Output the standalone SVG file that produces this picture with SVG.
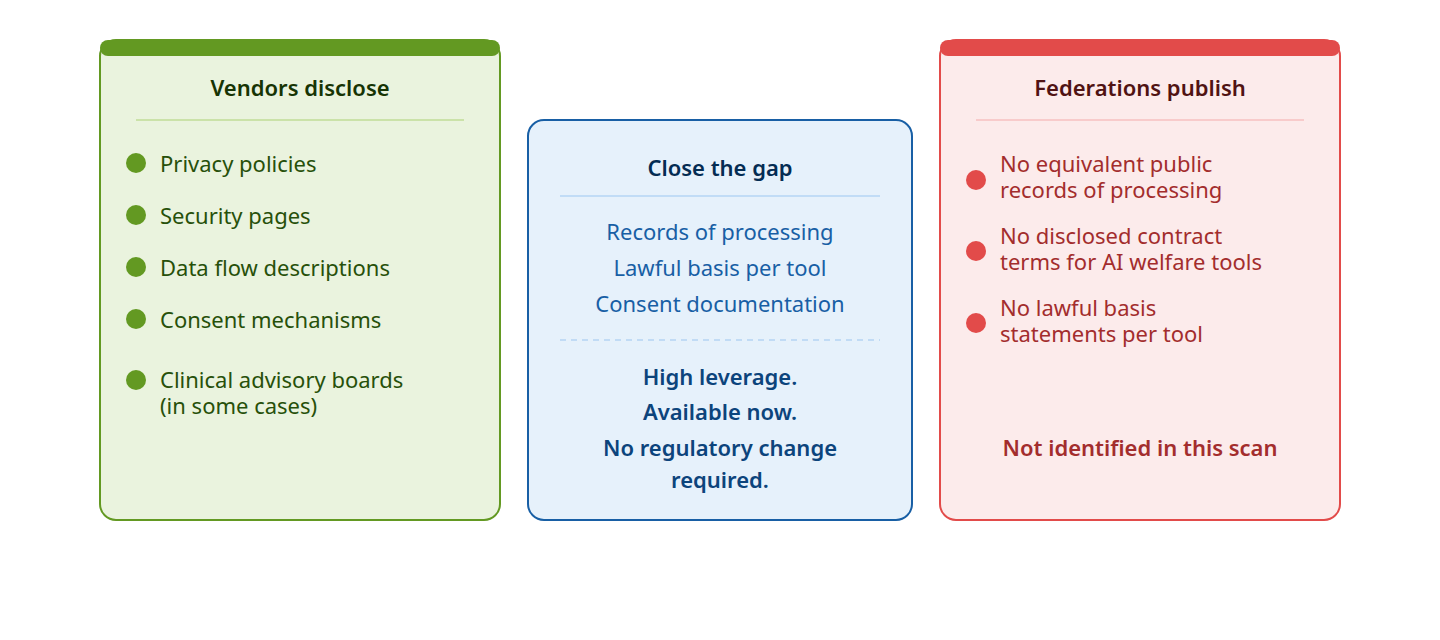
<svg xmlns="http://www.w3.org/2000/svg" width="1440" height="640" viewBox="0 0 1440 640">
<style>
text{font-family:"Segoe UI","Noto Sans","Open Sans",sans-serif}
.t{font-size:22px;font-weight:600;text-anchor:middle}
.b{font-size:22px}
.c{font-size:22px;text-anchor:middle}
.cb{font-size:22px;font-weight:600;text-anchor:middle}
</style>
<rect width="1440" height="640" fill="#ffffff"/>
<g id="vendors">
<rect x="100" y="40" width="400" height="480" rx="16" fill="#EAF3DE" stroke="#639922" stroke-width="2"/>
<rect x="100" y="40" width="400" height="16" rx="8" fill="#639922"/>
<text class="t" x="300" y="96" fill="#173404">Vendors disclose</text>
<line x1="136" y1="120" x2="464" y2="120" stroke="#C0DD97" stroke-width="1.5"/>
<g fill="#639922">
<circle cx="136" cy="163" r="10"/><circle cx="136" cy="215" r="10"/><circle cx="136" cy="267" r="10"/><circle cx="136" cy="319" r="10"/><circle cx="136" cy="380" r="10"/>
</g>
<g fill="#27500A">
<text class="b" x="160" y="172">Privacy policies</text>
<text class="b" x="160" y="224">Security pages</text>
<text class="b" x="160" y="276">Data flow descriptions</text>
<text class="b" x="160" y="328">Consent mechanisms</text>
<text class="b" x="160" y="388">Clinical advisory boards<tspan x="160" dy="26">(in some cases)</tspan></text>
</g>
</g>
<g id="gap">
<rect x="528" y="120" width="384" height="400" rx="16" fill="#E6F1FB" stroke="#185FA5" stroke-width="2"/>
<text class="t" x="720" y="176" fill="#042C53">Close the gap</text>
<line x1="560" y1="196" x2="880" y2="196" stroke="#B5D4F4" stroke-width="1.5"/>
<g fill="#185FA5">
<text class="c" x="720" y="240">Records of processing</text>
<text class="c" x="720" y="276">Lawful basis per tool</text>
<text class="c" x="720" y="312">Consent documentation</text>
</g>
<line x1="560" y1="340" x2="880" y2="340" stroke="#B5D4F4" stroke-width="1.5" stroke-dasharray="6 5"/>
<g fill="#0C447C">
<text class="cb" x="720" y="385">High leverage.</text>
<text class="cb" x="720" y="420">Available now.</text>
<text class="cb" x="720" y="456">No regulatory change<tspan x="720" dy="32">required.</tspan></text>
</g>
</g>
<g id="federations">
<rect x="940" y="40" width="400" height="480" rx="16" fill="#FCEBEB" stroke="#E24B4A" stroke-width="2"/>
<rect x="940" y="40" width="400" height="16" rx="8" fill="#E24B4A"/>
<text class="t" x="1140" y="96" fill="#501313">Federations publish</text>
<line x1="976" y1="120" x2="1304" y2="120" stroke="#F7C1C1" stroke-width="1.5"/>
<g fill="#E24B4A">
<circle cx="976" cy="180" r="10"/><circle cx="976" cy="251" r="10"/><circle cx="976" cy="323" r="10"/>
</g>
<g fill="#A32D2D">
<text class="b" x="1000" y="172">No equivalent public<tspan x="1000" dy="26">records of processing</tspan></text>
<text class="b" x="1000" y="244">No disclosed contract<tspan x="1000" dy="26">terms for AI welfare tools</tspan></text>
<text class="b" x="1000" y="316">No lawful basis<tspan x="1000" dy="26">statements per tool</tspan></text>
<text class="cb" x="1140" y="456">Not identified in this scan</text>
</g>
</g>
</svg>
